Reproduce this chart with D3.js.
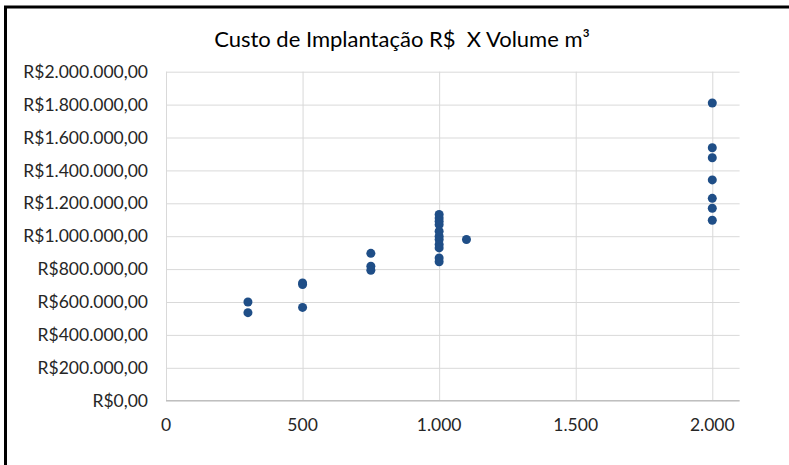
<!DOCTYPE html>
<html>
<head>
<meta charset="utf-8">
<script src="https://cdn.jsdelivr.net/npm/d3@7"></script>
<style>
  html, body { margin: 0; padding: 0; background: #fff; }
  svg { display: block; }
  text { font-family: Lato, "Open Sans", sans-serif; fill: #262626; }
</style>
</head>
<body>
<svg id="chart" width="789" height="465"></svg>
<script>
// Volume (m³) of each installation and its cost (R$)
const volumes = [
  300, 300,
  500, 500, 500,
  750, 750, 750,
  1000, 1000, 1000, 1000, 1000, 1000, 1000, 1000, 1000, 1000, 1000,
  1100,
  2000, 2000, 2000, 2000, 2000, 2000, 2000
];
const costs = [
  600000, 535000,
  716000, 706000, 567000,
  896000, 817000, 793000,
  1132000, 1110000, 1091000, 1070000, 1030000, 1000000, 980000, 950000, 929000, 868000, 845000,
  980000,
  1810000, 1538000, 1477000, 1342000, 1230000, 1170000, 1097000
];
const xTicks = [0, 500, 1000, 1500, 2000];
const yTicks = [0, 200000, 400000, 600000, 800000, 1000000, 1200000, 1400000, 1600000, 1800000, 2000000];
const title = "Custo de Implantação R$  X Volume m³";

const points = volumes.map((v, i) => ({ volume: v, cost: costs[i] }));

const svg = d3.select("#chart");

const x = d3.scaleLinear().domain([0, 2100]).range([166, 739.6]);
const y = d3.scaleLinear().domain([0, 2000000]).range([400.7, 71.7]);

const ptBR = d3.formatLocale({ decimal: ",", thousands: ".", grouping: [3], currency: ["R$", ""] });
const fmtVolume = ptBR.format(",.0f");
const fmtCost = ptBR.format("$,.2f");

// frame around the chart
svg.append("path")
  .attr("d", "M5.5,465 L5.5,7 L789,7")
  .attr("fill", "none")
  .attr("stroke", "#000")
  .attr("stroke-width", 3);

// title
svg.append("text")
  .attr("x", 402)
  .attr("y", 47)
  .attr("text-anchor", "middle")
  .style("font-size", "22px")
  .style("white-space", "pre")
  .style("fill", "#000")
  .text(title);

// horizontal gridlines
svg.append("g")
  .attr("transform", `translate(166,0)`)
  .call(d3.axisLeft(y).tickValues(yTicks).tickSize(-(x.range()[1] - 166)).tickFormat(""))
  .call(g => g.select(".domain").remove())
  .call(g => g.selectAll(".tick line").attr("stroke", "#d9d9d9").attr("stroke-width", 1));

// vertical gridlines
svg.append("g")
  .attr("transform", `translate(0,${y(0)})`)
  .call(d3.axisBottom(x).tickValues(xTicks).tickSize(-(y(0) - y(2000000))).tickFormat(""))
  .call(g => g.select(".domain").remove())
  .call(g => g.selectAll(".tick line").attr("stroke", "#d9d9d9").attr("stroke-width", 1));

// x axis baseline
svg.append("line")
  .attr("x1", x(0)).attr("x2", x.range()[1])
  .attr("y1", y(0)).attr("y2", y(0))
  .attr("stroke", "#bfbfbf").attr("stroke-width", 1.2);

// y tick labels
svg.append("g")
  .selectAll("text")
  .data(yTicks)
  .join("text")
  .attr("x", 148)
  .attr("y", d => y(d))
  .attr("dy", "0.35em")
  .attr("text-anchor", "end")
  .style("font-size", "17.5px")
  .text(d => fmtCost(d));

// x tick labels
svg.append("g")
  .selectAll("text")
  .data(xTicks)
  .join("text")
  .attr("x", d => x(d))
  .attr("y", 431)
  .attr("text-anchor", "middle")
  .style("font-size", "17.5px")
  .text(d => fmtVolume(d));

// data points
svg.append("g")
  .selectAll("circle")
  .data(points)
  .join("circle")
  .attr("cx", d => x(d.volume))
  .attr("cy", d => y(d.cost))
  .attr("r", 4.5)
  .attr("fill", "#1f4e87");
</script>
</body>
</html>
